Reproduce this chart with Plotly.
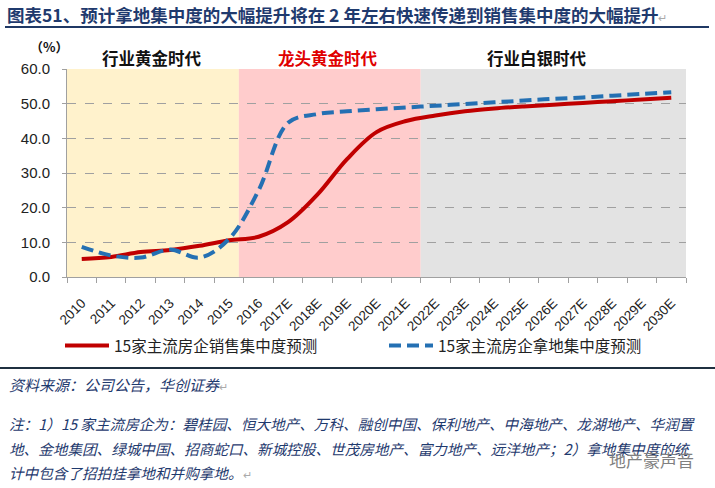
import plotly.graph_objects as go

# ---------------- data ----------------
years = ['2010', '2011', '2012', '2013', '2014', '2015', '2016', '2017E', '2018E',
         '2019E', '2020E', '2021E', '2022E', '2023E', '2024E', '2025E', '2026E',
         '2027E', '2028E', '2029E', '2030E']
sales_conc = [5.2, 5.8, 7.2, 7.8, 9.0, 10.6, 11.6, 15.8, 23.8, 34.0, 41.8, 45.0,
              46.6, 47.8, 48.6, 49.2, 49.7, 50.2, 50.7, 51.2, 51.7]
land_conc = [8.7, 6.2, 5.6, 7.9, 5.6, 11.0, 25.0, 44.5, 47.0, 47.8, 48.4, 48.9,
             49.4, 49.9, 50.4, 50.9, 51.4, 51.8, 52.3, 52.8, 53.3]
series_names = ['15家主流房企销售集中度预测', '15家主流房企拿地集中度预测']
y_ticks = [0, 10, 20, 30, 40, 50, 60]
era_labels = ['行业黄金时代', '龙头黄金时代', '行业白银时代']
era_start = [-0.5, 5.33, 11.5]
era_end = [5.33, 11.5, 20.5]

title_text = '图表51、预计拿地集中度的大幅提升将在 2 年左右快速传递到销售集中度的大幅提升'
source_text = '资料来源：公司公告，华创证券'
note_lines = [
    '注：1）15 家主流房企为：碧桂园、恒大地产、万科、融创中国、保利地产、中海地产、龙湖地产、华润置',
    '地、金地集团、绿城中国、招商蛇口、新城控股、世茂房地产、富力地产、远洋地产；2）拿地集中度的统',
    '计中包含了招拍挂拿地和并购拿地。',
]

# ---------------- layout helpers ----------------
W, H = 715, 488
L, R, T, B = 67, 686, 69, 277
CJK = 'Noto Sans CJK SC'
NAVY = '#1F3A6E'


def px(xp):
    return (xp - L) / (R - L)


def py(yp):
    return (B - yp) / (B - T)


fig = go.Figure()
fig.add_trace(go.Scatter(
    x=years, y=sales_conc, mode='lines', name=series_names[0], legendwidth=265,
    line=dict(color='#C00000', width=4, shape='spline', smoothing=1.0)))
fig.add_trace(go.Scatter(
    x=years, y=land_conc, mode='lines', name=series_names[1], legendwidth=225,
    line=dict(color='#2470B3', width=4, shape='spline', smoothing=1.0, dash='12px,6px')))

era_fill = ['#FFF2CC', '#FFCCCC', '#E3E3E3']
era_font_color = ['#111111', '#E00000', '#111111']
era_label_x = [2.4, 8.35, 15.45]
shapes = []
annotations = []
for i, lab in enumerate(era_labels):
    shapes.append(dict(type='rect', xref='x', yref='paper', x0=era_start[i], x1=era_end[i],
                       y0=0, y1=1, fillcolor=era_fill[i], line=dict(width=0), layer='below'))
    annotations.append(dict(text='<b>%s</b>' % lab, xref='x', yref='paper', x=era_label_x[i],
                            y=py(58), xanchor='center', yanchor='middle', showarrow=False,
                            font=dict(family=CJK, size=16.5, color=era_font_color[i])))

# title and separator lines
shapes.append(dict(type='line', xref='paper', yref='paper', x0=px(5), x1=px(709),
                   y0=py(27), y1=py(27), line=dict(color='#1F3864', width=2)))
shapes.append(dict(type='line', xref='paper', yref='paper', x0=px(0), x1=px(715),
                   y0=py(368), y1=py(368), line=dict(color='#1F3040', width=2)))

annotations.append(dict(
    text='<b>%s</b><span style="color:#AAAAAA;font-size:11px">↵</span>' % title_text,
    xref='paper', yref='paper', x=px(5), y=py(14), xanchor='left', yanchor='middle',
    showarrow=False, font=dict(family=CJK, size=17.5, color=NAVY)))
annotations.append(dict(text='<b>（%）</b>', xref='paper', yref='paper', x=px(49), y=py(47),
                        xanchor='center', yanchor='middle', showarrow=False,
                        font=dict(family=CJK, size=13, color='#111111')))
annotations.append(dict(
    text='<i>%s</i><span style="color:#AAAAAA;font-size:11px">↵</span>' % source_text,
    xref='paper', yref='paper', x=px(7), y=py(384), xanchor='left', yanchor='middle',
    showarrow=False, font=dict(family=CJK, size=15, color=NAVY)))
note_y = [423, 448, 472]
for i, line in enumerate(note_lines):
    txt = '<i>%s</i>' % line
    if i == len(note_lines) - 1:
        txt += '<span style="color:#AAAAAA;font-size:11px">↵</span>'
    annotations.append(dict(text=txt, xref='paper', yref='paper', x=px(7), y=py(note_y[i]),
                            xanchor='left', yanchor='middle', showarrow=False,
                            font=dict(family=CJK, size=14.6, color=NAVY)))
annotations.append(dict(text='地产豪声音', xref='paper', yref='paper', x=px(651), y=py(459),
                        xanchor='center', yanchor='middle', showarrow=False,
                        font=dict(family=CJK, size=17, color='#808080')))

fig.update_layout(
    width=W, height=H,
    margin=dict(l=L, r=W - R, t=T, b=H - B, pad=0),
    paper_bgcolor='white', plot_bgcolor='white',
    shapes=shapes, annotations=annotations,
    showlegend=True,
    legend=dict(orientation='h', x=px(60), y=py(346), xanchor='left', yanchor='middle',
                font=dict(family=CJK, size=15.5, color='#222222'),
                itemwidth=44, bgcolor='rgba(0,0,0,0)', traceorder='normal'),
    xaxis=dict(type='category', range=[-0.5, 20.5], showline=True, linecolor='#A0A0A0',
               linewidth=1, ticks='outside', tickson='boundaries', ticklen=5,
               tickcolor='#A0A0A0', tickangle=-45, showgrid=False,
               tickfont=dict(family='Liberation Sans', size=13.5, color='#222222'),
               ticklabelstandoff=12),
    yaxis=dict(range=[0, 60], tickvals=y_ticks, tickformat='.1f', showline=True,
               linecolor='#A0A0A0', linewidth=1, ticks='outside', ticklen=4,
               tickcolor='#A0A0A0', showgrid=True, gridcolor='#A0A0A0', griddash='dash',
               gridwidth=1, zeroline=False,
               tickfont=dict(family='Liberation Sans', size=15, color='#222222'),
               ticklabelstandoff=9),
)

fig.write_html('out.html', post_script="document.body.style.margin='0';",
               config={'displayModeBar': False})
